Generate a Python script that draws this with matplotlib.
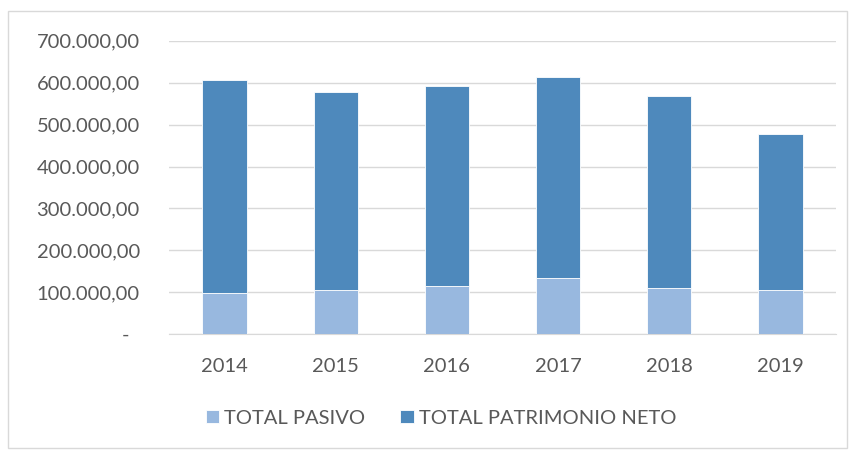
import matplotlib
matplotlib.use("Agg")
import matplotlib.pyplot as plt
from matplotlib.ticker import FuncFormatter
from matplotlib.patches import Rectangle

years = ["2014", "2015", "2016", "2017", "2018", "2019"]
total_pasivo = [99200, 105600, 114400, 133500, 110400, 105600]
total_patrimonio_neto = [506800, 472100, 476900, 479300, 457800, 372700]

c_light = "#98B8DF"
c_dark = "#4E89BC"
txt = "#595959"

plt.rcParams['font.family'] = ['Lato', 'DejaVu Sans']
fs = 14.5

fig = plt.figure(figsize=(8.53, 4.5), dpi=100)
ax = fig.add_axes([169/853, 1-334.3/450, (836-169)/853, (334.3-40.7)/450])

x = list(range(len(years)))
ax.bar(x, total_pasivo, width=0.4, color=c_light, edgecolor="white", linewidth=0.6,
       label="TOTAL PASIVO", zorder=3)
ax.bar(x, total_patrimonio_neto, width=0.4, bottom=total_pasivo, color=c_dark,
       edgecolor="white", linewidth=0.6, label="TOTAL PATRIMONIO NETO", zorder=3)

ax.set_xlim(-0.5, len(years) - 0.5)
ax.set_ylim(0, 700000)
ax.set_yticks(range(0, 700001, 100000))

def fmt(v, pos):
    if v == 0:
        return "-  "
    s = f"{v:,.2f}"
    return s.replace(",", "X").replace(".", ",").replace("X", ".")

ax.yaxis.set_major_formatter(FuncFormatter(fmt))
ax.set_xticks(x)
ax.set_xticklabels(years)
ax.grid(axis="y", color="#D9D9D9", linewidth=1.0, zorder=0)
for s in ["top", "right", "left"]:
    ax.spines[s].set_visible(False)
ax.spines["bottom"].set_color("#D9D9D9")
ax.tick_params(axis="both", length=0, colors=txt, labelsize=fs)
ax.tick_params(axis="y", pad=21)
ax.tick_params(axis="x", pad=17)

leg = fig.legend(loc="center", bbox_to_anchor=(0.517, 1-418/450), ncol=2, frameon=False,
                 fontsize=fs, handlelength=0.65, handleheight=0.65, handletextpad=0.25,
                 columnspacing=1.75)
for t in leg.get_texts():
    t.set_color(txt)

fig.patches.append(Rectangle((8/853, 0.005), (847-8)/853, 1-11/450-0.005,
                             transform=fig.transFigure, fill=False,
                             edgecolor="#D9D9D9", linewidth=1.0))

fig.savefig("out.png", dpi=100)
